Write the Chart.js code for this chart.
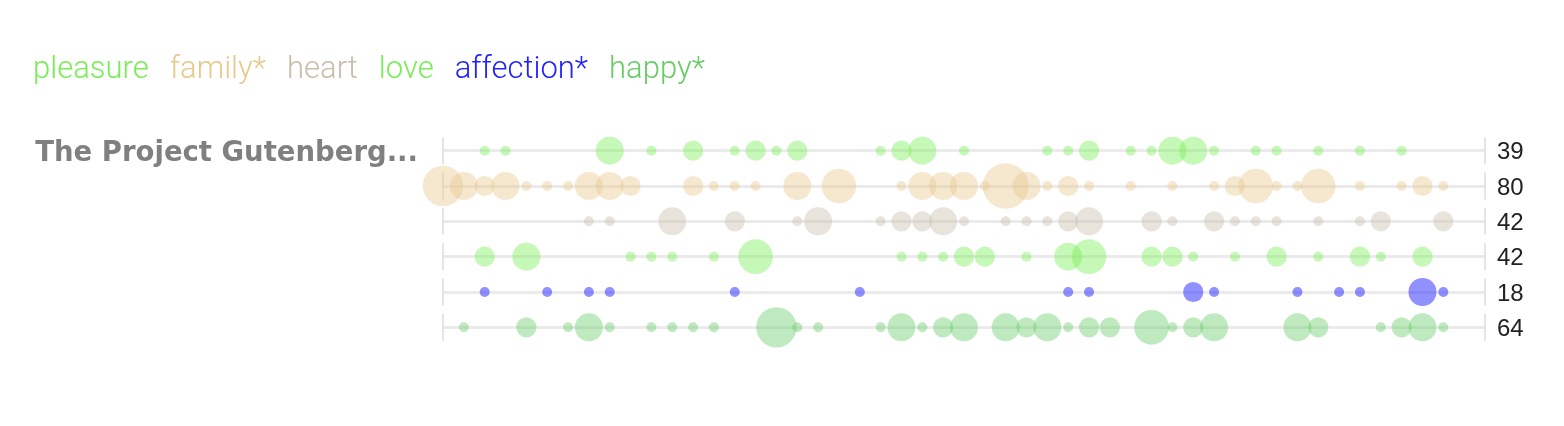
<!DOCTYPE html>
<html>
<head>
<meta charset="utf-8">
<script src="https://cdn.jsdelivr.net/npm/chart.js@4.4.1/dist/chart.umd.min.js"></script>
<style>
  body { margin: 0; background: #fff; }
  #wrap { position: relative; width: 1564px; height: 426px; }
  #legend { position: absolute; left: 33px; top: 48px; display: flex; gap: 21px;
            font-family: Roboto, "Liberation Sans", sans-serif; font-weight: 300; font-size: 31px; line-height: 40px; }
</style>
</head>
<body>
<div id="wrap">
  <div id="legend"></div>
  <canvas id="chart"></canvas>
</div>
<script>
// textos y colores
const seriesNames = ['pleasure', 'family*', 'heart', 'love', 'affection*', 'happy*'];
const seriesColors = ['#77ee55', '#e6c98c', '#c9bca9', '#77ee55', '#2222ff', '#66cc66'];
const bookLabel = 'The Project Gutenberg...';
const totals = [39, 80, 42, 42, 18, 64];

// conteos por tramo del libro (0..50)
const pleasure = [0,0,1,1,0,0,0,0,3,0, 1,0,2,0,1,2,1,2,0,0, 0,1,2,3,0,1,0,0,0,1, 1,2,0,1,1,3,3,1,0,1, 1,0,1,0,1,0,1,0,0,0,0];
const family   = [5,3,2,3,1,1,1,3,3,2, 0,0,2,1,1,1,0,3,0,4, 0,0,1,3,3,3,1,6,3,1, 2,1,0,1,0,1,0,1,2,4, 1,1,4,0,1,0,1,2,1,0,0];
const heart    = [0,0,0,0,0,0,0,1,1,0, 0,3,0,0,2,0,0,1,3,0, 0,1,2,2,3,1,0,1,1,1, 2,3,0,0,2,1,0,2,1,1, 1,0,1,0,1,2,0,0,2,0,0];
const love     = [0,0,2,0,3,0,0,0,0,1, 1,1,0,1,0,4,0,0,0,0, 0,0,1,1,1,2,2,0,1,0, 3,4,0,0,2,2,1,0,1,0, 2,0,1,0,2,1,0,2,0,0,0];
const affection= [0,0,1,0,0,1,0,1,1,0, 0,0,0,0,1,0,0,0,0,0, 1,0,0,0,0,0,0,0,0,0, 1,1,0,0,0,0,2,1,0,0, 0,1,0,1,1,0,0,3,1,0,0];
const happy    = [0,1,0,0,2,0,1,3,1,0, 1,1,1,1,0,0,5,1,1,0, 0,1,3,1,2,3,0,3,2,3, 1,2,2,0,4,1,2,3,0,0, 0,3,2,0,0,1,2,3,1,0,0];

const allCounts = [pleasure, family, heart, love, affection, happy];

// leyenda
const legend = document.getElementById('legend');
seriesNames.forEach((name, i) => {
    let span = document.createElement('span');
    span.textContent = name;
    span.style.color = seriesColors[i];
    legend.appendChild(span);
});

function bubbleSize(n){
    return 12.3 * Math.sqrt(n) - 7.3;
}

function alpha(hex, a){
    const v = parseInt(hex.slice(1), 16);
    return 'rgba(' + (v >> 16) + ',' + ((v >> 8) & 255) + ',' + (v & 255) + ',' + a + ')';
}

const datasets = allCounts.map((counts, row) => ({
    label: seriesNames[row],
    data: counts.map((n, i) => ({x: i, y: row, n: n})).filter(p => p.n > 0),
    backgroundColor: alpha(seriesColors[row], row === 4 ? 0.5 : 0.42),
    borderWidth: 0,
    clip: false,
    radius: ctx => bubbleSize(ctx.raw.n)
}));

const rowTicks = axis => { axis.ticks = seriesNames.map((_, i) => ({value: i})); };

// rayitas verticales al principio y final de cada fila
const endMarks = {
    id: 'endMarks',
    beforeDatasetsDraw(chart){
        const ctx = chart.ctx;
        const x = chart.scales.x, y = chart.scales.y;
        ctx.save();
        ctx.strokeStyle = '#dddddd';
        ctx.lineWidth = 1.5;
        seriesNames.forEach((_, i) => {
            const py = y.getPixelForValue(i);
            [0, 50].forEach(v => {
                const px = x.getPixelForValue(v);
                ctx.beginPath();
                ctx.moveTo(px, py - 13.5);
                ctx.lineTo(px, py + 13.5);
                ctx.stroke();
            });
        });
        ctx.restore();
    }
};

new Chart(document.getElementById('chart'), {
    type: 'bubble',
    data: { datasets: datasets },
    plugins: [endMarks],
    options: {
        responsive: true,
        maintainAspectRatio: false,
        animation: false,
        events: [],
        layout: { padding: { top: 133, bottom: 81, left: 0, right: 0 } },
        plugins: { legend: { display: false }, tooltip: { enabled: false } },
        scales: {
            x: { type: 'linear', min: 0, max: 50, display: false },
            y: {
                type: 'linear', position: 'left', min: -0.5, max: 5.5, reverse: true,
                afterBuildTicks: rowTicks,
                afterFit: axis => { axis.width = 443; },
                border: { display: false },
                grid: { color: '#ebebeb', lineWidth: 3, drawTicks: false },
                ticks: {
                    padding: 25,
                    labelOffset: 3,
                    color: '#808080',
                    font: { family: '"DejaVu Sans"', weight: 'bold', size: 27.5 },
                    callback: v => v === 0 ? bookLabel : ''
                }
            },
            y2: {
                type: 'linear', position: 'right', min: -0.5, max: 5.5, reverse: true,
                afterBuildTicks: rowTicks,
                afterFit: axis => { axis.width = 79; },
                border: { display: false },
                grid: { display: false, drawTicks: false },
                ticks: {
                    padding: 12,
                    labelOffset: 2,
                    color: '#222',
                    font: { family: '"Liberation Sans"', size: 24 },
                    callback: v => totals[v]
                }
            }
        }
    }
});
</script>
</body>
</html>
